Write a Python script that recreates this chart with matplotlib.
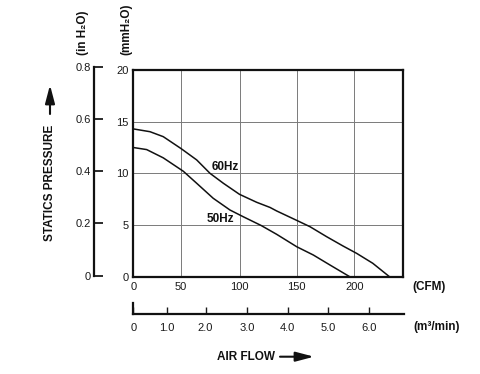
import numpy as np
import matplotlib
matplotlib.use('Agg')
from matplotlib import pyplot as plt
from matplotlib.patches import FancyArrowPatch

plt.rcParams['font.family'] = ['Liberation Sans', 'DejaVu Sans']

# curves: air flow (CFM) vs static pressure (mmH2O)
flow_60hz = [0, 17.5, 31.4, 50, 63.4, 74.8, 86.2, 100, 115, 126.7, 132.5,
             150, 161.5, 176, 190.2, 202, 216, 230.5]
pres_60hz = [14.3, 14.03, 13.55, 12.4, 11.3, 10.0, 9.04, 7.97, 7.2, 6.7, 6.36,
             5.45, 4.84, 3.87, 2.97, 2.26, 1.30, 0]

flow_50hz = [0, 14, 31.4, 52, 63.4, 77.5, 91.9, 103.3, 119, 132.5, 150,
             164.4, 178.9, 196]
pres_50hz = [12.5, 12.3, 11.5, 10.2, 9.04, 7.59, 6.45, 5.8, 4.95, 4.1, 2.9,
             2.1, 1.13, 0]

cfm_ticks = [0, 50, 100, 150, 200]
mm_ticks = [0, 5, 10, 15, 20]
inch_ticks = [0, 0.2, 0.4, 0.6, 0.8]
inch_labels = ['0', '0.2', '0.4', '0.6', '0.8']
m3_ticks = [0, 1, 2, 3, 4, 5, 6]
m3_labels = ['0', '1.0', '2.0', '3.0', '4.0', '5.0', '6.0']

CFM_PER_M3 = 35.3147

# the printed flow axis is not quite linear: the first 50 CFM are squeezed
scale_cfm = [0, 50, 100, 150, 200, 250]
scale_pos = [0, 47.7, 106.2, 163.4, 221.0, 278.6]


def fwd(x):
    return np.interp(x, scale_cfm, scale_pos)


def inv(p):
    return np.interp(p, scale_pos, scale_cfm)


W, H = 480, 374


def fx(px):
    return px / W


def fy(py):
    return 1 - py / H


fig = plt.figure(figsize=(4.8, 3.74), dpi=100)

# main chart
ax = fig.add_axes([fx(133.3), fy(276.7), 269.4 / W, 206.7 / H])
ax.set_xscale('function', functions=(fwd, inv))
ax.set_xlim(0, 242)
ax.set_ylim(0, 20)
ax.set_xticks(cfm_ticks)
ax.set_xticklabels([str(t) for t in cfm_ticks])
ax.set_yticks(mm_ticks)
ax.grid(True, color='#7a7a7a', lw=0.7)
ax.tick_params(length=0, labelsize=8, colors='#1a1a1a')
ax.tick_params(axis='x', pad=3.5)
ax.tick_params(axis='y', pad=3.5)
for s in ax.spines.values():
    s.set_linewidth(1.6)
    s.set_color('#111111')

ax.plot(flow_60hz, pres_60hz, c='#111111', lw=1.1)
ax.plot(flow_50hz, pres_50hz, c='#111111', lw=1.1)
ax.text(87.6, 10.6, '60Hz', ha='center', va='center', fontsize=8.5,
        fontweight='bold', color='#111111')
ax.text(83.6, 5.6, '50Hz', ha='center', va='center', fontsize=8.5,
        fontweight='bold', color='#111111')

# inch of water axis on the far left
ax_in = fig.add_axes([fx(94.3), fy(275.7), 0.01, 209.0 / H])
ax_in.set_ylim(0, 0.8)
ax_in.set_yticks(inch_ticks)
ax_in.set_yticklabels(inch_labels)
ax_in.set_xticks([])
for name in ['top', 'right', 'bottom']:
    ax_in.spines[name].set_visible(False)
ax_in.spines['left'].set_linewidth(1.6)
ax_in.spines['left'].set_color('#111111')
ax_in.patch.set_visible(False)
ax_in.tick_params(axis='y', direction='in', length=6.5, width=1.3,
                  labelsize=8, pad=2.6, colors='#1a1a1a')

# m3/min axis under the chart
ax_m = fig.add_axes([fx(133.3), fy(314.3), 271.0 / W, 11.0 / H])
ax_m.set_xscale('function', functions=(lambda m: fwd(m * CFM_PER_M3),
                                       lambda p: inv(p) / CFM_PER_M3))
ax_m.set_xlim(0, 242 / CFM_PER_M3)
ax_m.set_xticks(m3_ticks)
ax_m.set_xticklabels(m3_labels)
ax_m.set_yticks([])
for name in ['top', 'right']:
    ax_m.spines[name].set_visible(False)
for name in ['left', 'bottom']:
    ax_m.spines[name].set_linewidth(1.6)
    ax_m.spines[name].set_color('#111111')
ax_m.patch.set_visible(False)
ax_m.tick_params(axis='x', direction='in', length=5, width=1.0,
                 labelsize=8, pad=6, colors='#1a1a1a')

# axis titles and units
bold = dict(fontweight='bold', fontsize=8.5, color='#111111')
fig.text(fx(412), fy(287.3), '(CFM)', ha='left', va='center', **bold)
fig.text(fx(413), fy(327.3), '(m³/min)', ha='left', va='center', **bold)
fig.text(fx(245.8), fy(356.7), 'AIR FLOW', ha='center', va='center', **bold)
fig.text(fx(50), fy(182.5), 'STATICS PRESSURE', ha='center', va='center',
         rotation=90, **bold)
fig.text(fx(83), fy(55), '(in H₂O)', ha='center', va='bottom',
         rotation=90, **bold)
fig.text(fx(126), fy(55), '(mmH₂O)', ha='center', va='bottom',
         rotation=90, **bold)

arrow_kw = dict(transform=fig.transFigure, arrowstyle='-|>,head_length=11,head_width=2.9',
                mutation_scale=1, lw=1.5, color='#111111', shrinkA=0, shrinkB=0)
fig.add_artist(FancyArrowPatch((fx(50), fy(114)), (fx(50), fy(85)), **arrow_kw))
fig.add_artist(FancyArrowPatch((fx(280), fy(356.7)), (fx(314), fy(356.7)), **arrow_kw))

fig.savefig('out.png', dpi=100)
